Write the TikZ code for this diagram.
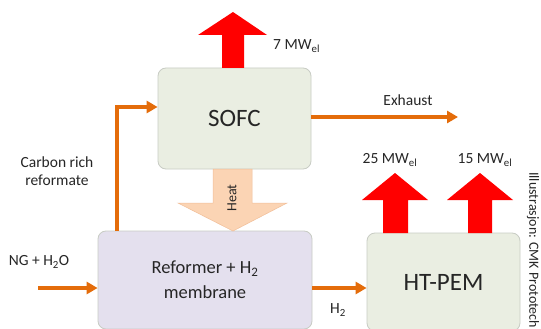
\documentclass[tikz,border=0pt]{standalone}
\usepackage{fontspec}
\setmainfont{Carlito}
\usetikzlibrary{arrows.meta}
\definecolor{orangeln}{HTML}{E46C0A}
\definecolor{greenbox}{HTML}{EAEEE2}
\definecolor{lilacbox}{HTML}{E4E0EE}
\definecolor{boxline}{HTML}{C8CCC4}
\definecolor{heatfill}{HTML}{FBD4B4}
\definecolor{heatline}{HTML}{F2BE98}
\definecolor{txt}{HTML}{262626}
\tikzset{
  box/.style={draw=boxline, line width=0.8pt, rounded corners=8pt, inner sep=0pt, text=txt, align=center},
  flow/.style={draw=orangeln, line width=3.2pt, -{Triangle[length=11pt,width=12pt]}},
  flowline/.style={draw=orangeln, line width=3.2pt},
  power/.style={fill=red, draw=none},
  lbl/.style={font=\fontsize{15.5}{18}\selectfont, text=txt, inner sep=0pt, align=center},
}
\begin{document}
\begin{tikzpicture}[x=1pt,y=-1pt]
\useasboundingbox (0,0) rectangle (541,329);
\fill[white] (0,0) rectangle (541,329);

% boxes
\node[box, fill=greenbox, minimum width=153pt, minimum height=101pt, font=\fontsize{25}{28}\selectfont] (sofc) at (234.5,118.5) {SOFC};
\node[box, fill=lilacbox, minimum width=214pt, minimum height=98pt, font=\fontsize{18.5}{25}\selectfont] (ref) at (205,280) {Reformer + H\textsubscript{2}\\membrane};
\node[box, fill=greenbox, minimum width=153pt, minimum height=98pt, font=\fontsize{25}{28}\selectfont] (htpem) at (443.5,282) {HT-PEM};

% heat arrow
\draw[fill=heatfill, draw=heatline, line width=0.5pt]
  (213,169) -- (252,169) -- (252,203) -- (287,203) -- (233,231) -- (178,203) -- (213,203) -- cycle;
\node[lbl, font=\fontsize{14}{16}\selectfont, rotate=90] (heat) at (232,198) {Heat};

% red power arrows
\fill[power] (222,68) -- (222,35) -- (198,35) -- (233,12) -- (267,35) -- (244,35) -- (244,68) -- cycle;
\fill[power] (383,233) -- (383,200) -- (362,200) -- (395,173) -- (428,200) -- (408,200) -- (408,233) -- cycle;
\fill[power] (468,233) -- (468,200) -- (447,200) -- (480,173) -- (513,200) -- (492,200) -- (492,233) -- cycle;

% power labels
\node[lbl, anchor=west] (p7) at (273,46) {7 MW\textsubscript{el}};
\node[lbl] (p25) at (390,160) {25 MW\textsubscript{el}};
\node[lbl] (p15) at (485,160) {15 MW\textsubscript{el}};

% flows
\coordinate (cr) at (117,107);
\draw[flowline] (ref.north -| cr) -- ([yshift=-1.6pt]cr);
\draw[flow] ([xshift=-1.6pt]cr) -- (cr -| sofc.west);
\coordinate (exend) at (458,117);
\draw[flow] (sofc.east |- exend) -- (exend);
\coordinate (ngstart) at (38,288);
\draw[flow] (ngstart) -- (ngstart -| ref.west);
\coordinate (h2y) at (330,288);
\draw[flow] (ref.east |- h2y) -- (h2y -| htpem.west);

% flow labels
\node[lbl] (crl) at (57,171) {Carbon rich\\reformate};
\node[lbl] (ngl) at (39,262) {NG + H\textsubscript{2}O};
\node[lbl] (exl) at (408,100) {Exhaust};
\node[lbl] (h2l) at (338,310) {H\textsubscript{2}};

% credit
\node[font=\fontsize{14}{16}\selectfont, text=txt, rotate=-90, anchor=west, inner sep=0pt] (credit) at (533,172) {Illustrasjon: CMK Prototech};
\end{tikzpicture}
\end{document}
